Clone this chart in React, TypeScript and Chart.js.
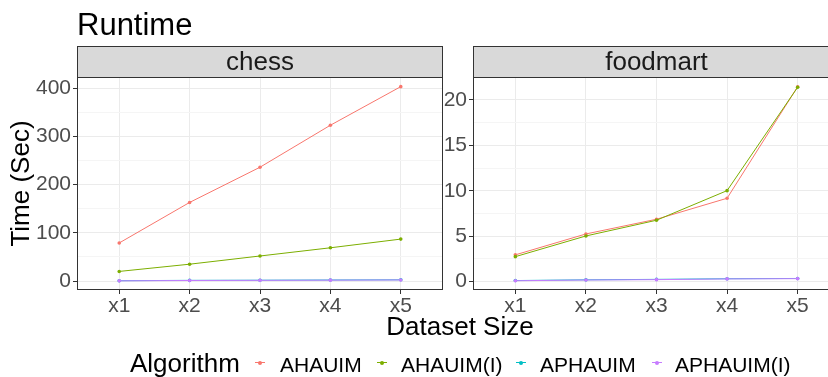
import React, { useEffect, useRef } from 'react';
import { Chart, registerables } from 'chart.js';

Chart.register(...registerables);
Chart.defaults.font.family = '"Liberation Sans", Arial, Helvetica, sans-serif';

// ---- data ----
const categories = ['x1', 'x2', 'x3', 'x4', 'x5'];
const algorithms = ['AHAUIM', 'AHAUIM(I)', 'APHAUIM', 'APHAUIM(I)'];
const colors = ['#F8766D', '#7CAE00', '#00BFC4', '#C77CFF'];

const chessAHAUIM = [79, 163, 236, 323, 403];
const chessAHAUIM_I = [20, 35, 52, 69, 87];
const chessAPHAUIM = [0.8, 1.5, 1.8, 2.2, 2.6];
const chessAPHAUIM_I = [0.5, 1.2, 1.5, 1.9, 2.3];

const foodAHAUIM = [2.95, 5.25, 6.87, 9.18, 21.46];
const foodAHAUIM_I = [2.75, 5.03, 6.76, 10.02, 21.4];
const foodAPHAUIM = [0.12, 0.2, 0.25, 0.32, 0.35];
const foodAPHAUIM_I = [0.1, 0.18, 0.22, 0.3, 0.33];

const chessMajor = [0, 100, 200, 300, 400];
const chessMinor = [50, 150, 250, 350];
const foodMajor = [0, 5, 10, 15, 20];
const foodMinor = [2.5, 7.5, 12.5, 17.5];

const FONT = '"Liberation Sans", Arial, Helvetica, sans-serif';

const isIn = (arr: number[], v: any) => typeof v === 'number' && arr.some((a) => Math.abs(a - v) < 1e-9);

function panelPlugin(label: string) {
  return {
    id: 'panelDecor',
    afterDraw(chart: any) {
      const { ctx, chartArea } = chart;
      const { left, right, top, bottom } = chartArea;
      const stripTop = 46;
      ctx.save();
      ctx.fillStyle = '#D9D9D9';
      ctx.fillRect(left, stripTop, right - left, top - stripTop);
      ctx.strokeStyle = '#333333';
      ctx.lineWidth = 1;
      ctx.strokeRect(Math.round(left) + 0.5, stripTop + 0.5, Math.round(right - left) - 1, Math.round(top - stripTop));
      ctx.strokeRect(Math.round(left) + 0.5, Math.round(top) + 0.5, Math.round(right - left) - 1, Math.round(bottom - top) - 1);
      ctx.fillStyle = '#1A1A1A';
      ctx.font = `26px ${FONT}`;
      ctx.textAlign = 'center';
      ctx.textBaseline = 'alphabetic';
      ctx.fillText(label, (left + right) / 2, 70);
      ctx.restore();
    },
  };
}

interface PanelProps {
  left: number;
  width: number;
  strip: string;
  series: number[][];
  yMin: number;
  yMax: number;
  major: number[];
  minor: number[];
  yAxisWidth: number;
  padRight: number;
  yTitle?: string;
}

function Panel(p: PanelProps) {
  const ref = useRef<HTMLCanvasElement>(null);
  useEffect(() => {
    const canvas = ref.current;
    if (!canvas) return;
    const allTicks = [...p.major, ...p.minor].sort((a, b) => a - b);
    const chart = new Chart(canvas, {
      type: 'line',
      data: {
        datasets: p.series.map((vals, i) => ({
          label: algorithms[i],
          data: vals.map((v, j) => ({ x: j + 1, y: v })),
          borderColor: colors[i],
          backgroundColor: colors[i],
          borderWidth: 1,
          pointRadius: 1.8,
          pointBorderWidth: 0,
          pointHoverRadius: 1.8,
          tension: 0,
          order: p.series.length - 1 - i,
        })),
      },
      options: {
        responsive: false,
        animation: false,
        events: [],
        layout: { padding: { left: 0, right: p.padRight, top: 77, bottom: 0 } },
        plugins: {
          legend: { display: false },
          tooltip: { enabled: false },
          title: { display: false },
        },
        scales: {
          x: {
            type: 'linear',
            min: 0.4,
            max: 5.6,
            afterBuildTicks: (s: any) => {
              s.ticks = categories.map((_, i) => ({ value: i + 1 }));
            },
            afterFit: (s: any) => {
              s.height = 87;
            },
            ticks: {
              callback: (v: any) => categories[Math.round(v) - 1] ?? '',
              color: '#4D4D4D',
              font: { size: 21 },
              padding: 0,
              autoSkip: false,
              maxRotation: 0,
            },
            grid: {
              color: '#EBEBEB',
              lineWidth: 1,
              drawTicks: true,
              tickLength: 4,
              tickColor: '#333333',
              tickWidth: 1,
            },
            border: { display: false },
          },
          y: {
            type: 'linear',
            min: p.yMin,
            max: p.yMax,
            afterBuildTicks: (s: any) => {
              s.ticks = allTicks.map((v) => ({ value: v }));
            },
            afterFit: (s: any) => {
              s.width = p.yAxisWidth;
            },
            ticks: {
              callback: (v: any) => (isIn(p.major, v) ? String(v) : ''),
              color: '#4D4D4D',
              font: { size: 21 },
              padding: 2,
              autoSkip: false,
            },
            grid: {
              color: (ctx: any) => (isIn(p.major, ctx.tick?.value) ? '#EBEBEB' : '#F5F5F5'),
              lineWidth: 1,
              drawTicks: true,
              tickLength: 4,
              tickColor: (ctx: any) => (isIn(p.major, ctx.tick?.value) ? '#333333' : 'rgba(0,0,0,0)'),
              tickWidth: 1,
            },
            border: { display: false },
            title: p.yTitle
              ? {
                  display: true,
                  text: p.yTitle,
                  color: '#000000',
                  font: { size: 26, lineHeight: 1 },
                  padding: { top: 9, bottom: 0 },
                }
              : { display: false },
          },
        },
      } as any,
      plugins: [panelPlugin(p.strip)],
    });
    return () => chart.destroy();
  }, []);
  return (
    <canvas
      ref={ref}
      width={p.width}
      height={377}
      style={{ position: 'absolute', left: p.left, top: 0, width: p.width, height: 377 }}
    />
  );
}

const legendKeyX = [260, 382, 521, 657];
const legendLabelX = [280, 401, 540, 675];

export default function App() {
  return (
    <div
      style={{
        position: 'fixed',
        left: 0,
        top: 0,
        width: 828,
        height: 377,
        overflow: 'hidden',
        background: '#FFFFFF',
        fontFamily: FONT,
      }}
    >
      <Panel
        left={0}
        width={450}
        strip="chess"
        series={[chessAHAUIM, chessAHAUIM_I, chessAPHAUIM, chessAPHAUIM_I]}
        yMin={-18.5}
        yMax={423}
        major={chessMajor}
        minor={chessMinor}
        yAxisWidth={77}
        padRight={7}
        yTitle="Time (Sec)"
      />
      <Panel
        left={440}
        width={405}
        strip="foodmart"
        series={[foodAHAUIM, foodAHAUIM_I, foodAPHAUIM, foodAPHAUIM_I]}
        yMin={-0.92}
        yMax={22.53}
        major={foodMajor}
        minor={foodMinor}
        yAxisWidth={33}
        padRight={5}
      />
      <div style={{ position: 'absolute', left: 77, top: 9, fontSize: 31, lineHeight: '31px', color: '#000' }}>
        Runtime
      </div>
      <div
        style={{
          position: 'absolute',
          left: 260,
          width: 400,
          top: 313,
          fontSize: 26,
          lineHeight: '26px',
          textAlign: 'center',
          color: '#000',
        }}
      >
        Dataset Size
      </div>
      <div style={{ position: 'absolute', left: 130, top: 350, fontSize: 26, lineHeight: '26px', color: '#000' }}>
        Algorithm
      </div>
      {algorithms.map((a, i) => (
        <React.Fragment key={a}>
          <div
            style={{
              position: 'absolute',
              left: legendKeyX[i] - 5,
              top: 362,
              width: 10,
              height: 1,
              background: colors[i],
            }}
          />
          <div
            style={{
              position: 'absolute',
              left: legendKeyX[i] - 2,
              top: 360.5,
              width: 4,
              height: 4,
              borderRadius: 2,
              background: colors[i],
            }}
          />
          <div
            style={{
              position: 'absolute',
              left: legendLabelX[i],
              top: 354,
              fontSize: 21,
              lineHeight: '21px',
              color: '#000',
              whiteSpace: 'nowrap',
            }}
          >
            {a}
          </div>
        </React.Fragment>
      ))}
    </div>
  );
}
